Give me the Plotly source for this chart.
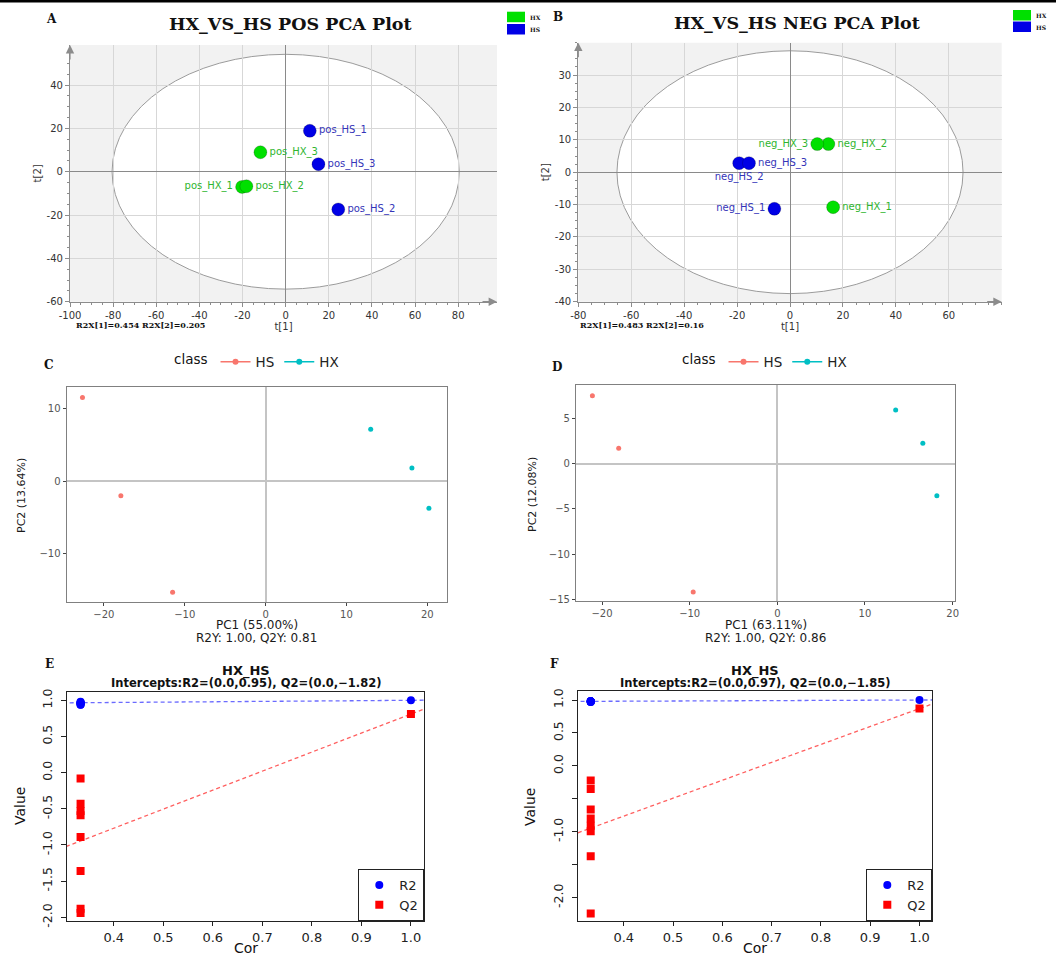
import numpy as np
import plotly.graph_objects as go

# ------------------------------------------------------------------
# Panel A: PCA scores, positive ion mode
# ------------------------------------------------------------------
pos_names = ["pos_HX_1", "pos_HX_2", "pos_HX_3", "pos_HS_1", "pos_HS_2", "pos_HS_3"]
pos_groups = ["HX", "HX", "HX", "HS", "HS", "HS"]
pos_t1 = [-20.2, -18.2, -11.7, 11.2, 24.4, 15.2]
pos_t2 = [-7.0, -6.7, 9.0, 18.9, -17.4, 3.5]
pos_ellipse = [80.5, 54.2]          # Hotelling T2 ellipse semi-axes
pos_r2x = [0.454, 0.205]
pos_xticks = [-100, -80, -60, -40, -20, 0, 20, 40, 60, 80]
pos_yticks = [-60, -40, -20, 0, 20, 40]

# ------------------------------------------------------------------
# Panel B: PCA scores, negative ion mode
# ------------------------------------------------------------------
neg_names = ["neg_HX_1", "neg_HX_2", "neg_HX_3", "neg_HS_1", "neg_HS_2", "neg_HS_3"]
neg_groups = ["HX", "HX", "HX", "HS", "HS", "HS"]
neg_t1 = [16.3, 14.5, 10.3, -5.9, -19.2, -15.5]
neg_t2 = [-10.8, 8.7, 8.7, -11.3, 2.8, 2.8]
neg_ellipse = [65.4, 37.5]
neg_r2x = [0.483, 0.16]
neg_xticks = [-80, -60, -40, -20, 0, 20, 40, 60]
neg_yticks = [-40, -30, -20, -10, 0, 10, 20, 30]

# ------------------------------------------------------------------
# Panels C / D: PLS-DA scores
# ------------------------------------------------------------------
pls_classes = ["HS", "HS", "HS", "HX", "HX", "HX"]
pos_pc1 = [-22.65, -17.9, -11.5, 13.0, 18.1, 20.2]
pos_pc2 = [11.6, -2.0, -15.35, 7.2, 1.84, -3.73]
pos_pc_var = [55.00, 13.64]
pos_r2y_q2y = [1.00, 0.81]
neg_pc1 = [-21.1, -18.1, -9.6, 13.5, 16.6, 18.2]
neg_pc2 = [7.52, 1.70, -14.2, 5.94, 2.25, -3.54]
neg_pc_var = [63.11, 12.08]
neg_r2y_q2y = [1.00, 0.86]

# ------------------------------------------------------------------
# Panels E / F: permutation tests (distinct permutation results)
# ------------------------------------------------------------------
pos_perm_cor = [0.333, 0.333, 0.333, 0.333, 0.333, 0.333, 0.333, 0.333]
pos_perm_r2 = [0.98, 0.97, 0.97, 0.96, 0.96, 0.95, 0.94, 0.94]
pos_perm_q2 = [-0.08, -0.43, -0.53, -0.59, -0.89, -1.36, -1.88, -1.94]
pos_model_r2q2 = [1.00, 0.81]
pos_intercepts = [0.95, -1.82]

neg_perm_cor = [0.333, 0.333, 0.333, 0.333, 0.333, 0.333, 0.333, 0.333]
neg_perm_r2 = [0.98, 0.98, 0.97, 0.98, 0.98, 0.97, 0.98, 0.98]
neg_perm_q2 = [-0.22, -0.35, -0.66, -0.80, -0.91, -0.99, -1.37, -2.24]
neg_model_r2q2 = [1.00, 0.87]
neg_intercepts = [0.97, -1.85]

perm_xticks = [0.4, 0.5, 0.6, 0.7, 0.8, 0.9, 1.0]
perm_yticks = [1.0, 0.5, 0.0, -0.5, -1.0, -1.5, -2.0]

# ------------------------------------------------------------------
# Styling
# ------------------------------------------------------------------
W, H = 1056, 957
SANS = "DejaVu Sans"
SERIF = "DejaVu Serif"
GREEN, BLUE = "#00e000", "#0000e6"
GREEN_TXT, BLUE_TXT = "#2fb52f", "#3434b8"
HS_COL, HX_COL = "#F8766D", "#00BFC4"

pos_label_pos = ["middle left", "middle right", "middle right",
                 "middle right", "middle right", "middle right"]
neg_label_pos = ["middle right", "middle right", "middle left",
                 "middle left", "bottom center", "middle right"]


def px_x(p):
    return p / W


def px_y(p):
    return 1 - p / H


fig = go.Figure()


# ---------------------------- A / B --------------------------------
def pca_panel(n, names, groups, t1, t2, label_pos, ellipse):
    xa = "x" if n == 1 else f"x{n}"
    ya = "y" if n == 1 else f"y{n}"
    for grp, col, tcol in (("HX", GREEN, GREEN_TXT), ("HS", BLUE, BLUE_TXT)):
        idx = [i for i, g in enumerate(groups) if g == grp]
        fig.add_trace(go.Scatter(
            x=[t1[i] for i in idx], y=[t2[i] for i in idx],
            text=[names[i] for i in idx],
            textposition=[label_pos[i] for i in idx],
            mode="markers+text",
            marker=dict(size=13, color=col, line=dict(width=0.8, color="rgba(0,0,0,0.25)")),
            textfont=dict(family=SANS, size=10, color=tcol),
            xaxis=xa, yaxis=ya, showlegend=False, hoverinfo="skip", cliponaxis=False))
    # grey area outside the confidence ellipse, white inside
    fig.add_shape(type="rect", xref=f"{xa} domain", yref=f"{ya} domain",
                  x0=0, x1=1, y0=0, y1=1, fillcolor="#f2f2f2",
                  line_width=0, layer="below")
    fig.add_shape(type="circle", xref=xa, yref=ya,
                  x0=-ellipse[0], x1=ellipse[0], y0=-ellipse[1], y1=ellipse[1],
                  fillcolor="white", line=dict(color="#9b9b9b", width=1),
                  layer="below")
    # arrow heads on the axes
    for x, y, ax, ay in ((1.0, 0.0, -16, 0), (0.0, 1.0, 0, 16)):
        fig.add_annotation(xref=f"{xa} domain", yref=f"{ya} domain", x=x, y=y,
                           ax=ax, ay=ay, text="", showarrow=True, arrowhead=2,
                           arrowsize=1.4, arrowwidth=1.2, arrowcolor="#8c8c8c")


pca_panel(1, pos_names, pos_groups, pos_t1, pos_t2, pos_label_pos, pos_ellipse)
pca_panel(2, neg_names, neg_groups, neg_t1, neg_t2, neg_label_pos, neg_ellipse)


# ---------------------------- C / D --------------------------------
def pls_panel(n, classes, pc1, pc2, legend_id):
    for cls, col in (("HS", HS_COL), ("HX", HX_COL)):
        idx = [i for i, c in enumerate(classes) if c == cls]
        fig.add_trace(go.Scatter(
            x=[pc1[i] for i in idx], y=[pc2[i] for i in idx], mode="markers",
            marker=dict(size=5, color=col), xaxis=f"x{n}", yaxis=f"y{n}",
            showlegend=False, hoverinfo="skip"))
        # legend key: line with point
        fig.add_trace(go.Scatter(
            x=[None], y=[None], mode="lines+markers", name=cls,
            marker=dict(size=6, color=col), line=dict(color=col, width=1.5),
            xaxis=f"x{n}", yaxis=f"y{n}", legend=legend_id))


pls_panel(3, pls_classes, pos_pc1, pos_pc2, "legend")
pls_panel(4, pls_classes, neg_pc1, neg_pc2, "legend2")


# ---------------------------- E / F --------------------------------
def perm_panel(n, cor, r2, q2, model, intercepts, legend_id):
    xa, ya = f"x{n}", f"y{n}"
    line_x = np.array([0.0, 1.1])
    fig.add_trace(go.Scatter(
        x=line_x, y=intercepts[0] + (model[0] - intercepts[0]) * line_x,
        mode="lines", line=dict(color="#6b6bff", width=1.3, dash="4px,3px"),
        xaxis=xa, yaxis=ya, showlegend=False, hoverinfo="skip"))
    fig.add_trace(go.Scatter(
        x=line_x, y=intercepts[1] + (model[1] - intercepts[1]) * line_x,
        mode="lines", line=dict(color="#ff6060", width=1.3, dash="4px,3px"),
        xaxis=xa, yaxis=ya, showlegend=False, hoverinfo="skip"))
    fig.add_trace(go.Scatter(
        x=cor + [1.0], y=r2 + [model[0]], mode="markers", name="R2",
        marker=dict(symbol="circle", size=8, color="#0000ff"),
        xaxis=xa, yaxis=ya, legend=legend_id, hoverinfo="skip"))
    fig.add_trace(go.Scatter(
        x=cor + [1.0], y=q2 + [model[1]], mode="markers", name="Q2",
        marker=dict(symbol="square", size=8, color="#ff0000"),
        xaxis=xa, yaxis=ya, legend=legend_id, hoverinfo="skip"))


perm_panel(5, pos_perm_cor, pos_perm_r2, pos_perm_q2, pos_model_r2q2, pos_intercepts, "legend3")
perm_panel(6, neg_perm_cor, neg_perm_r2, neg_perm_q2, neg_model_r2q2, neg_intercepts, "legend4")

# ------------------------------------------------------------------
# Axes
# ------------------------------------------------------------------
tick_small = dict(family=SANS, size=10, color="#333333")


def pca_axis(domain, rng, ticks, minor, anchor, title):
    return dict(domain=domain, range=rng, anchor=anchor, automargin=False,
                tickmode="array", tickvals=ticks, ticktext=[str(t) for t in ticks],
                showgrid=True, gridcolor="#d7d7d7", gridwidth=1,
                zeroline=True, zerolinecolor="#8a8a8a", zerolinewidth=1,
                showline=True, linecolor="#8c8c8c", linewidth=1.2,
                ticks="outside", ticklen=4, tickcolor="#8c8c8c",
                minor=dict(ticks="outside", ticklen=2, tickcolor="#8c8c8c",
                           tickmode="linear", tick0=0, dtick=minor, showgrid=False),
                tickfont=tick_small,
                title=dict(text=title, font=dict(family=SANS, size=10, color="#333"),
                           standoff=3),
                fixedrange=True)


def pls_axis(domain, rng, ticks, anchor):
    return dict(domain=domain, range=rng, anchor=anchor, tickvals=ticks,
                automargin=False,
                showgrid=False, zeroline=True, zerolinecolor="#c4c4c4",
                zerolinewidth=1.5, showline=True, mirror=True,
                linecolor="#808080", linewidth=1.2, ticks="outside",
                ticklen=3, tickcolor="#444", tickfont=dict(family=SANS, size=10, color="#555"),
                fixedrange=True)


def perm_axis(domain, rng, ticks, text, anchor, angle):
    return dict(domain=domain, range=rng, anchor=anchor, tickmode="array",
                automargin=False,
                tickvals=ticks, ticktext=text, tickangle=angle,
                showgrid=False, zeroline=False, showline=True, mirror=True,
                linecolor="#222", linewidth=1.2, ticks="outside", ticklen=5,
                tickcolor="#222", tickfont=dict(family=SANS, size=13, color="#222"),
                fixedrange=True)


fmt1 = lambda v: f"{v:.1f}"
f_ylabels = [fmt1(v) if v not in (-0.5, -1.5) else "" for v in perm_yticks]

layout_axes = dict(
    xaxis=pca_axis([px_x(70), px_x(497)], [-100, 98], pos_xticks, 5, "y", "t[1]"),
    yaxis=pca_axis([px_y(301.7), px_y(45)], [-60, 58.5], pos_yticks, 5, "x", "t[2]"),
    xaxis2=pca_axis([px_x(578.3), px_x(1001.7)], [-80, 80], neg_xticks, 5, "y2", "t[1]"),
    yaxis2=pca_axis([px_y(301.7), px_y(42.7)], [-40, 40], neg_yticks, 2.5, "x2", "t[2]"),
    xaxis3=pls_axis([px_x(66.7), px_x(446.7)], [-24.6, 22.4], [-20, -10, 0, 10, 20], "y3"),
    yaxis3=pls_axis([px_y(601.7), px_y(387.3)], [-16.65, 13.0], [-10, 0, 10], "x3"),
    xaxis4=pls_axis([px_x(576), px_x(955)], [-22.97, 20.27], [-20, -10, 0, 10, 20], "y4"),
    yaxis4=pls_axis([px_y(600.7), px_y(385)], [-15.15, 8.7], [-15, -10, -5, 0, 5], "x4"),
    xaxis5=perm_axis([px_x(66.7), px_x(424.3)], [0.305, 1.027], perm_xticks,
                     [fmt1(v) for v in perm_xticks], "y5", 0),
    yaxis5=perm_axis([px_y(921), px_y(691.7)], [-2.051, 1.119], perm_yticks,
                     [fmt1(v) for v in perm_yticks], "x5", -90),
    xaxis6=perm_axis([px_x(577.7), px_x(932.3)], [0.3066, 1.026], perm_xticks,
                     [fmt1(v) for v in perm_xticks], "y6", 0),
    yaxis6=perm_axis([px_y(921), px_y(691)], [-2.354, 1.137], perm_yticks,
                     f_ylabels, "x6", -90),
)
for k in ("yaxis5", "yaxis6"):
    layout_axes[k]["ticklabelstandoff"] = 4
    layout_axes[k]["tickfont"] = dict(family=SANS, size=12.5, color="#222")
for k in ("xaxis5", "xaxis6"):
    layout_axes[k]["ticklen"] = 4

# ------------------------------------------------------------------
# Legends
# ------------------------------------------------------------------
def class_legend(x):
    return dict(orientation="h", x=px_x(x), xanchor="left", y=px_y(362),
                yanchor="middle", bgcolor="rgba(0,0,0,0)",
                title=dict(text="class", side="left",
                           font=dict(family=SANS, size=13.5, color="#111")),
                font=dict(family=SANS, size=13.5, color="#222"))


def perm_legend(x):
    return dict(x=px_x(x), xanchor="right", y=px_y(921), yanchor="bottom",
                bgcolor="white", bordercolor="#222", borderwidth=1,
                font=dict(family=SANS, size=13, color="#222"),
                tracegroupgap=0)


fig.update_layout(
    width=W, height=H, margin=dict(l=0, r=0, t=0, b=0), autosize=False,
    paper_bgcolor="white", plot_bgcolor="white",
    legend=class_legend(172), legend2=class_legend(680),
    legend3=perm_legend(424.3), legend4=perm_legend(932.3),
    **layout_axes,
)

# ------------------------------------------------------------------
# Text: panel letters, titles, captions
# ------------------------------------------------------------------
def note(text, x, y, size, family=SANS, color="#111", angle=0, xanchor="center",
         xref="paper"):
    fig.add_annotation(text=text, x=x, y=y, xref=xref, yref="paper",
                       showarrow=False, textangle=angle, xanchor=xanchor,
                       yanchor="middle", font=dict(family=family, size=size, color=color))


for letter, x, y in (("A", 51, 19), ("B", 558, 17), ("C", 49, 365),
                     ("D", 557, 367), ("E", 49, 664), ("F", 554, 664)):
    note(f"<b>{letter}</b>", px_x(x), px_y(y), 12, SERIF)

note("<b>HX_VS_HS POS PCA Plot</b>", px_x(290), px_y(24), 17.5, SERIF)
note("<b>HX_VS_HS NEG PCA Plot</b>", px_x(797), px_y(23), 17.5, SERIF)
note(f"<b>R2X[1]={pos_r2x[0]} R2X[2]={pos_r2x[1]}</b>", px_x(74), px_y(325), 8,
     SERIF, xanchor="left")
note(f"<b>R2X[1]={neg_r2x[0]} R2X[2]={neg_r2x[1]}</b>", px_x(578), px_y(325), 8,
     SERIF, xanchor="left")

# small colour keys for the PCA panels
for x0, y0, gap in ((507, 11.7, 12.3), (1013, 10, 11.5)):
    for i, (grp, col) in enumerate((("HX", GREEN), ("HS", BLUE))):
        fig.add_shape(type="rect", xref="paper", yref="paper",
                      x0=px_x(x0), x1=px_x(x0 + 18), y0=px_y(y0 + gap * i + 10.5),
                      y1=px_y(y0 + gap * i), fillcolor=col, line_width=0)
        note(f"<b>{grp}</b>", px_x(x0 + 21), px_y(y0 + gap * i + 5.5), 6, SERIF,
             xanchor="left")

# PLS-DA captions
for cx, var, stats in ((256.7, pos_pc_var, pos_r2y_q2y), (765.5, neg_pc_var, neg_r2y_q2y)):
    note(f"PC1 ({var[0]:.2f}%)", px_x(cx), px_y(625), 12, color="#1a1a1a")
    note(f"R2Y: {stats[0]:.2f}, Q2Y: {stats[1]:.2f}", px_x(cx), px_y(637.5), 12,
         color="#1a1a1a")
note(f"PC2 ({pos_pc_var[1]:.2f}%)", px_x(21), px_y(496), 11, color="#1a1a1a", angle=-90)
note(f"PC2 ({neg_pc_var[1]:.2f}%)", px_x(532), px_y(495), 11, color="#1a1a1a", angle=-90)

# permutation titles and axis labels
for cx, icpt in ((245.5, pos_intercepts), (755, neg_intercepts)):
    note("<b>HX_HS</b>", px_x(cx), px_y(670.5), 13)
    note(f"<b>Intercepts:R2=(0.0,{icpt[0]:.2f}), Q2=(0.0,\u2212{abs(icpt[1]):.2f})</b>",
         px_x(cx), px_y(683), 11.5)
    note("Cor", px_x(cx), px_y(948), 14)
note("Value", px_x(20), px_y(806), 14, angle=-90)
note("Value", px_x(530), px_y(807), 14, angle=-90)

# thin black rule across the top edge
fig.add_shape(type="rect", xref="paper", yref="paper", x0=0, x1=1,
              y0=px_y(2.5), y1=1, fillcolor="black", line_width=0)

fig.write_html("out.html")
